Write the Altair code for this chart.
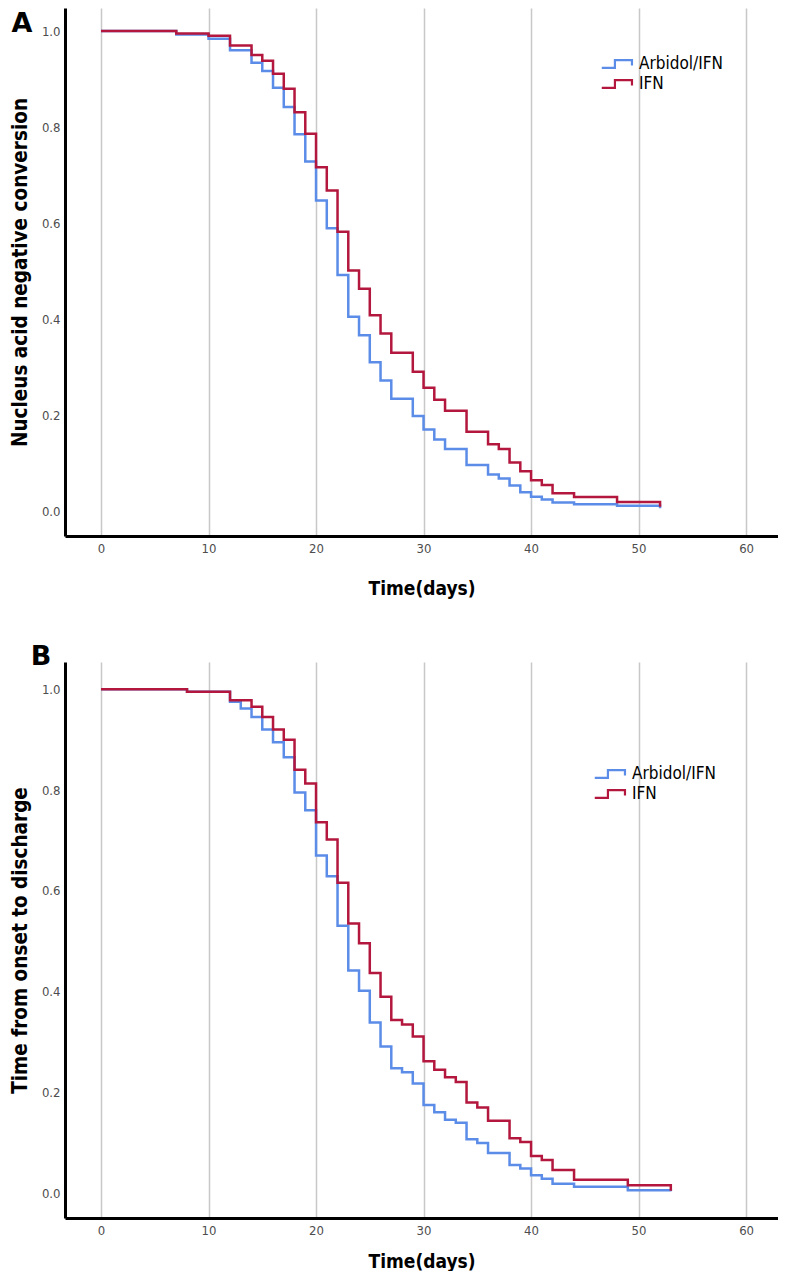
import altair as alt
import pandas as pd

groups = ["Arbidol/IFN", "IFN"]
colors = ["#5b8ce8", "#b3173d"]

# Panel A: nucleus acid negative conversion
a_blue_t = [0, 7, 10, 12, 14, 15, 16, 17, 18, 19, 20, 21, 22, 23, 24, 25, 26, 27, 29, 30, 31, 32, 34, 36, 37, 38, 39, 40, 41, 42, 44, 48, 52]
a_blue_s = [1.0, 0.993, 0.984, 0.960, 0.934, 0.917, 0.882, 0.842, 0.785, 0.728, 0.647, 0.589, 0.492, 0.405, 0.366, 0.310, 0.272, 0.234, 0.198, 0.170, 0.149, 0.129, 0.096, 0.076, 0.068, 0.053, 0.039, 0.030, 0.024, 0.018, 0.014, 0.011, 0.006]
a_red_t = [0, 7, 10, 12, 14, 15, 16, 17, 18, 19, 20, 21, 22, 23, 24, 25, 26, 27, 29, 30, 31, 32, 34, 36, 37, 38, 39, 40, 41, 42, 44, 48, 52]
a_red_s = [1.0, 0.995, 0.99, 0.97, 0.95, 0.938, 0.911, 0.88, 0.831, 0.786, 0.716, 0.668, 0.582, 0.501, 0.463, 0.408, 0.370, 0.330, 0.290, 0.257, 0.232, 0.209, 0.165, 0.139, 0.129, 0.101, 0.083, 0.064, 0.054, 0.037, 0.029, 0.019, 0.009]

# Panel B: time from onset to discharge
b_blue_t = [0, 8, 12, 13, 14, 15, 16, 17, 18, 19, 20, 21, 22, 23, 24, 25, 26, 27, 28, 29, 30, 31, 32, 33, 34, 35, 36, 38, 39, 40, 41, 42, 44, 49, 53]
b_blue_s = [1.0, 0.995, 0.975, 0.962, 0.945, 0.92, 0.895, 0.865, 0.795, 0.760, 0.670, 0.629, 0.531, 0.442, 0.402, 0.339, 0.291, 0.248, 0.240, 0.218, 0.175, 0.161, 0.146, 0.140, 0.107, 0.100, 0.080, 0.056, 0.049, 0.036, 0.029, 0.019, 0.013, 0.006, 0.004]
b_red_t = [0, 8, 12, 14, 15, 16, 17, 18, 19, 20, 21, 22, 23, 24, 25, 26, 27, 28, 29, 30, 31, 32, 33, 34, 35, 36, 38, 39, 40, 41, 42, 44, 49, 53]
b_red_s = [1.0, 0.995, 0.978, 0.965, 0.945, 0.92, 0.90, 0.84, 0.813, 0.736, 0.702, 0.616, 0.535, 0.496, 0.437, 0.390, 0.344, 0.335, 0.311, 0.262, 0.245, 0.230, 0.221, 0.180, 0.170, 0.144, 0.109, 0.102, 0.074, 0.066, 0.046, 0.027, 0.016, 0.005]

x_ticks = [0, 10, 20, 30, 40, 50, 60]
y_ticks = [0.0, 0.2, 0.4, 0.6, 0.8, 1.0]

FONT = "DejaVu Sans Condensed, DejaVu Sans"
# step-shaped legend glyph, drawn mostly to the left of the nominal symbol box
STEP_PATH = "M-3,0.5H-1.3V-0.5H0.9V0.2"


def panel(tb, sb, tr, sr, ytitle, letter, height, y_domain, legend_x, legend_y,
          letter_x, letter_y, letter_baseline, x_title_pad):
    rows = [{"t": t, "s": s, "g": groups[0]} for t, s in zip(tb, sb)]
    rows += [{"t": t, "s": s, "g": groups[1]} for t, s in zip(tr, sr)]
    df = pd.DataFrame(rows)
    lines = alt.Chart(df).mark_line(interpolate="step-after", strokeWidth=2.5).encode(
        x=alt.X("t:Q",
                scale=alt.Scale(domain=[-3.35, 62.97], nice=False, zero=False),
                axis=alt.Axis(values=x_ticks, grid=True, ticks=False, format="d",
                              domainColor="black", domainWidth=3,
                              gridColor="#c8c8c8", gridWidth=1.5,
                              labelColor="#4d4d4d", labelFontSize=13, labelFont=FONT,
                              labelPadding=6,
                              title="Time(days)", titleFont=FONT, titleFontSize=19,
                              titleFontWeight="bold", titleColor="black",
                              titlePadding=x_title_pad)),
        y=alt.Y("s:Q",
                scale=alt.Scale(domain=y_domain, nice=False, zero=False),
                axis=alt.Axis(values=y_ticks, grid=False, ticks=False, format=".1f",
                              domainColor="black", domainWidth=3,
                              labelColor="#4d4d4d", labelFontSize=13, labelFont=FONT,
                              labelPadding=5,
                              title=ytitle, titleFont=FONT, titleFontSize=20.5,
                              titleFontWeight="bold", titleColor="black", titlePadding=11)),
        color=alt.Color("g:N", scale=alt.Scale(domain=groups, range=colors),
                        legend=alt.Legend(title=None, orient="none",
                                          legendX=legend_x, legendY=legend_y,
                                          symbolType=STEP_PATH, symbolSize=240,
                                          symbolStrokeWidth=2.2, symbolFillColor="transparent",
                                          labelFont=FONT, labelFontSize=17, labelColor="black",
                                          labelOffset=5, rowPadding=2)),
    )
    txt = alt.Chart(pd.DataFrame({"l": [letter]})).mark_text(
        font="DejaVu Sans", fontSize=27, fontWeight="bold", color="black", align="center",
        baseline=letter_baseline
    ).encode(x=alt.value(letter_x), y=alt.value(letter_y), text="l:N")
    return alt.layer(lines, txt).properties(width=713, height=height)


pa = panel(a_blue_t, a_blue_s, a_red_t, a_red_s, "Nucleus acid negative conversion", "A",
           528, [-0.052, 1.048], 551, 47, -43, 3, "top", 24)
pb = panel(b_blue_t, b_blue_s, b_red_t, b_red_s, "Time from onset to discharge", "B",
           556, [-0.049, 1.054], 544, 103, -24, -5, "middle", 15)

chart = alt.vconcat(pa, pb, spacing=126, bounds="flush").resolve_scale(
    color="independent"
).resolve_legend(color="independent").properties(
    padding={"left": 2, "top": 0, "right": 0, "bottom": 0}, background="white"
).configure_view(strokeWidth=0)

chart.save("out.html", embed_options={"renderer": "svg", "actions": False})
